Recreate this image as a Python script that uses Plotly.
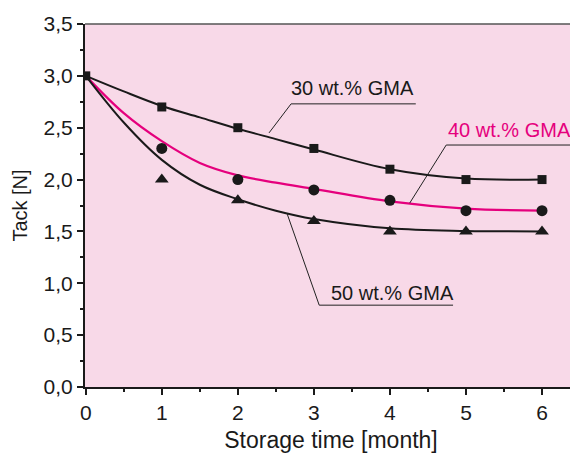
import plotly.graph_objects as go

# measured data points
months = [0, 1, 2, 3, 4, 5, 6]
gma30 = [3.0, 2.7, 2.5, 2.3, 2.1, 2.0, 2.0]
gma40 = [3.0, 2.3, 2.0, 1.9, 1.8, 1.7, 1.7]
gma50 = [3.0, 2.0, 1.8, 1.6, 1.5, 1.5, 1.5]

# fitted curves
fit_x = [0, 0.5, 1, 1.5, 2, 2.5, 3, 4, 5, 6]
fit30 = [3.0, 2.85, 2.71, 2.60, 2.49, 2.39, 2.29, 2.10, 2.01, 2.0]
fit40 = [3.0, 2.64, 2.37, 2.16, 2.04, 1.97, 1.91, 1.79, 1.72, 1.70]
fit50 = [3.0, 2.55, 2.19, 1.95, 1.81, 1.70, 1.62, 1.53, 1.505, 1.50]

x_ticks = [0, 1, 2, 3, 4, 5, 6]
y_ticks = [0.0, 0.5, 1.0, 1.5, 2.0, 2.5, 3.0, 3.5]

MAGENTA = "#E5007D"
FONT = "Liberation Sans, Arial, sans-serif"

fig = go.Figure()
fig.add_trace(go.Scatter(x=fit_x, y=fit30, mode="lines", line=dict(color="#1a1a1a", width=2, shape="spline"), showlegend=False))
fig.add_trace(go.Scatter(x=fit_x, y=fit40, mode="lines", line=dict(color=MAGENTA, width=2.2, shape="spline"), showlegend=False))
fig.add_trace(go.Scatter(x=fit_x, y=fit50, mode="lines", line=dict(color="#1a1a1a", width=2, shape="spline"), showlegend=False))

fig.add_trace(go.Scatter(x=months[1:], y=gma40[1:], mode="markers", marker=dict(symbol="circle", size=11, color="#1a1a1a"), showlegend=False))
fig.add_trace(go.Scatter(x=months[1:], y=gma50[1:], mode="markers", marker=dict(symbol="triangle-up", size=12, color="#1a1a1a"), showlegend=False))
fig.add_trace(go.Scatter(x=months, y=gma30, mode="markers", marker=dict(symbol="square", size=9, color="#1a1a1a"), showlegend=False))

# labels with underline + leader lines
labels = [
    ("30 wt.% GMA", "#1a1a1a", 3.51, 2.88, [(2.41, 2.45), (2.70, 2.73), (4.34, 2.73)]),
    ("40 wt.% GMA", MAGENTA, 5.57, 2.48, [(4.26, 1.773), (4.74, 2.333), (6.39, 2.333)]),
    ("50 wt.% GMA", "#1a1a1a", 4.04, 0.907, [(2.645, 1.677), (3.07, 0.789), (4.83, 0.789)]),
]
for text, col, tx, ty, pts in labels:
    fig.add_annotation(x=tx, y=ty, text=text, showarrow=False, font=dict(family=FONT, size=20, color=col),
                       xanchor="center", yanchor="middle")
    for (x0, y0), (x1, y1) in zip(pts[:-1], pts[1:]):
        fig.add_shape(type="line", x0=x0, y0=y0, x1=x1, y1=y1, xref="x", yref="y",
                      line=dict(color="#222222", width=1))

# top and right frame
fig.add_shape(type="line", xref="paper", yref="paper", x0=0, x1=1, y0=1, y1=1, line=dict(color="#555555", width=1.5))
fig.add_shape(type="line", xref="paper", yref="paper", x0=1, x1=1, y0=0, y1=1, line=dict(color="#999999", width=1.5))

# the page body adds an 8px offset, so the figure is 8px smaller
fig.update_layout(
    width=570, height=448,
    margin=dict(l=77, r=1, t=16, b=69, autoexpand=False),
    plot_bgcolor="#F8D9E8", paper_bgcolor="white",
    separators=",.",
    font=dict(family=FONT, color="#1a1a1a"),
)
fig.update_xaxes(
    automargin=False,
    range=[-0.01, 6.46], tickvals=x_ticks, ticktext=[str(v) for v in x_ticks],
    showgrid=False, zeroline=False, showline=True, linecolor="#1a1a1a", linewidth=2,
    ticks="outside", ticklen=6, tickwidth=1.5, tickcolor="#1a1a1a",
    minor=dict(dtick=0.5, ticks="outside", ticklen=3, tickwidth=1.5, tickcolor="#1a1a1a"),
    tickfont=dict(size=21, family=FONT),
    title=dict(text="Storage time [month]", font=dict(size=23, family=FONT), standoff=9),
)
fig.update_yaxes(
    automargin=False,
    range=[0, 3.5], tickvals=y_ticks, tickformat=".1f",
    showgrid=False, zeroline=False, showline=True, linecolor="#1a1a1a", linewidth=2,
    ticks="outside", ticklen=6, tickwidth=1.5, tickcolor="#1a1a1a",
    minor=dict(dtick=0.25, ticks="outside", ticklen=3, tickwidth=1.5, tickcolor="#1a1a1a"),
    tickfont=dict(size=21, family=FONT),
    title=dict(text="Tack [N]", font=dict(size=20, family=FONT), standoff=11),
)

fig.write_html("out.html")
